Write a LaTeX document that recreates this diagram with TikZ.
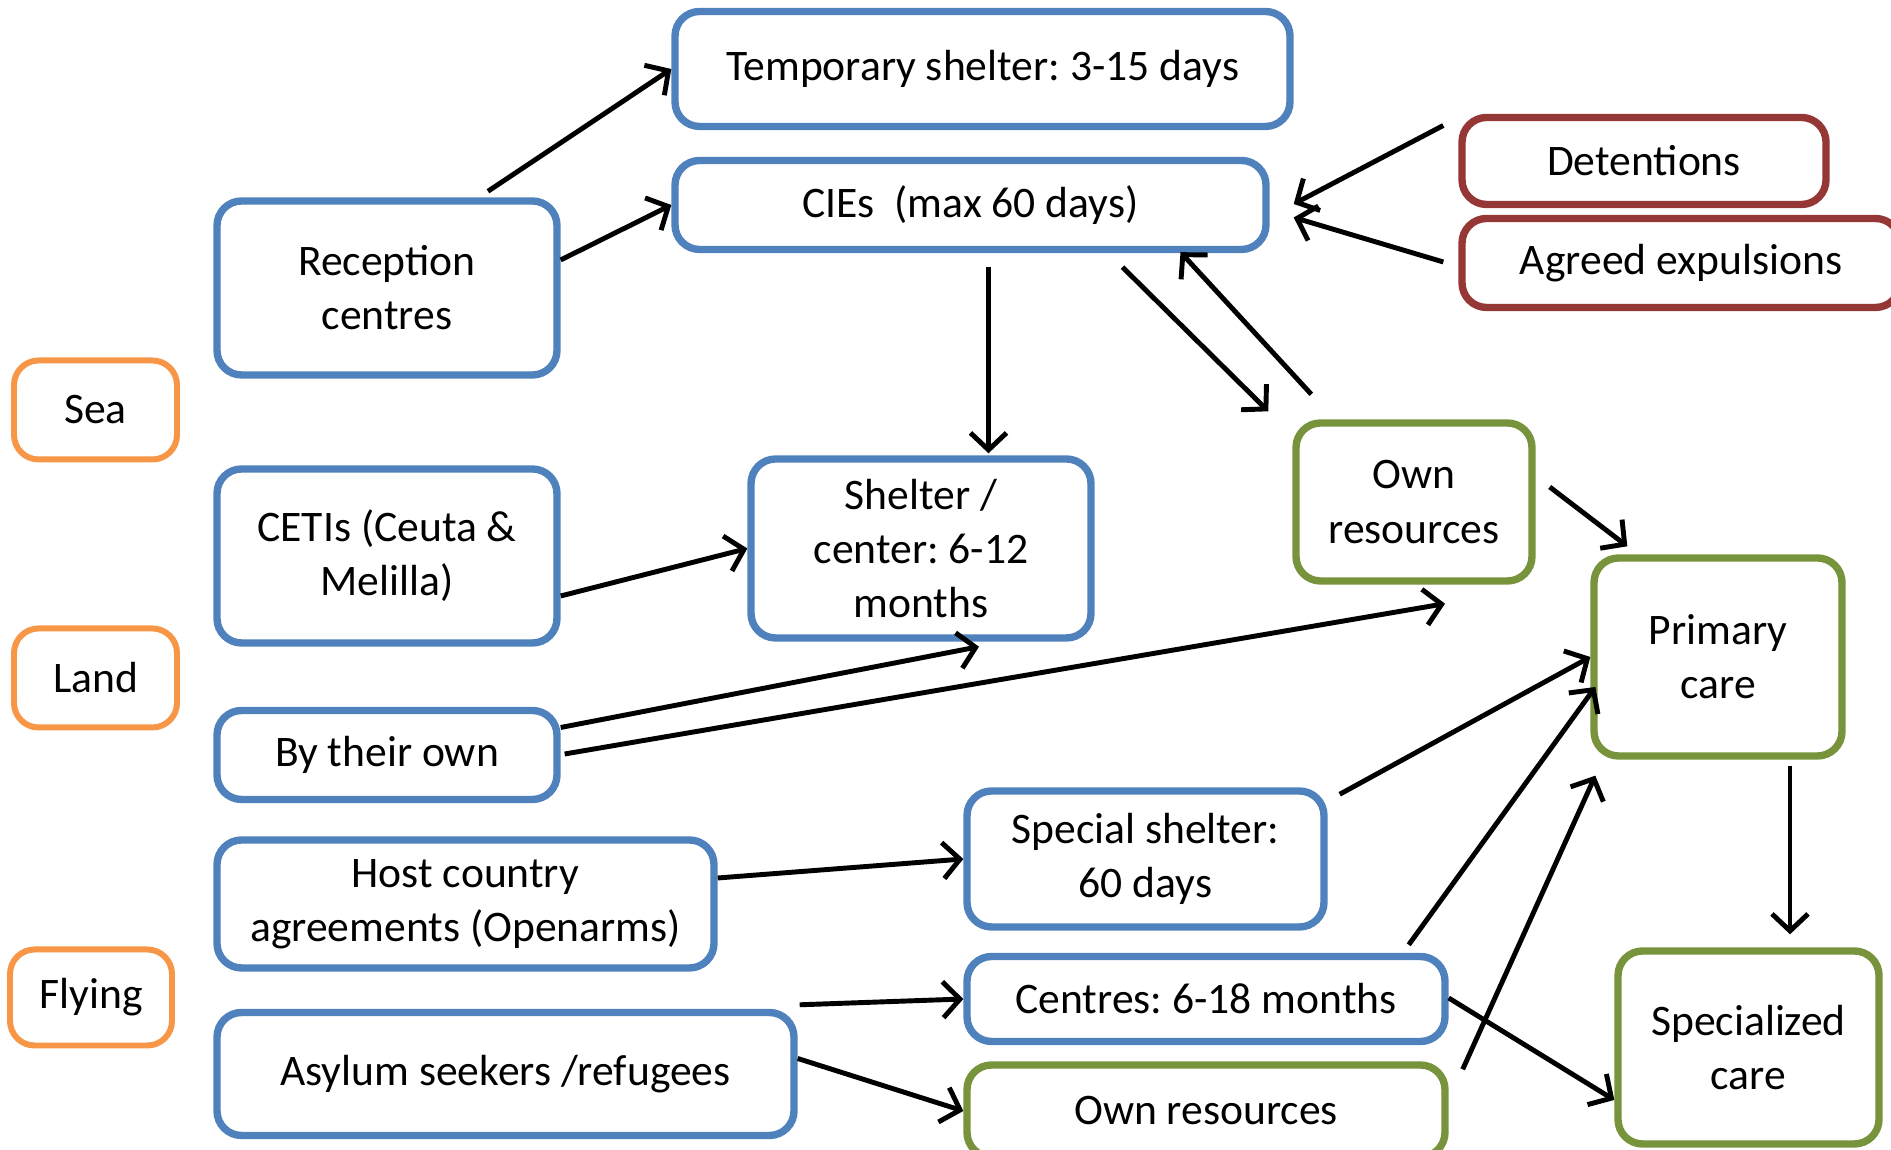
\documentclass[tikz,border=0pt]{standalone}
\usepackage{fontspec}
\setmainfont{Carlito}
\usetikzlibrary{arrows.meta}
\definecolor{boxblue}{HTML}{4F81BD}
\definecolor{boxorange}{HTML}{F79646}
\definecolor{boxred}{HTML}{953735}
\definecolor{boxgreen}{HTML}{77933C}
\frenchspacing

\begin{document}
\begin{tikzpicture}[
    box/.style={draw, fill=white, rounded corners=7pt, line width=2.1pt, align=center, inner sep=0pt,
      font=\fontsize{12.4}{15.4}\selectfont},
    bluebox/.style={box, draw=boxblue},
    orangebox/.style={box, draw=boxorange, line width=1.7pt},
    redbox/.style={box, draw=boxred},
    greenbox/.style={box, draw=boxgreen},
    arr/.style={-{Straight Barb[length=1.7mm,width=3.6mm]}, line width=1.4pt}
  ]
  \useasboundingbox (0,0) rectangle (18.91,11.5);

  % Ways of arrival
  \node[orangebox, minimum width=1.63cm, minimum height=0.99cm] (sea) at (0.955,7.40) {Sea};
  \node[orangebox, minimum width=1.63cm, minimum height=0.99cm] (land) at (0.955,4.72) {Land};
  \node[orangebox, minimum width=1.62cm, minimum height=0.96cm] (fly) at (0.91,1.525) {Flying};

  % First reception
  \node[bluebox, minimum width=3.4cm, minimum height=1.74cm] (rec) at (3.87,8.62) {Reception\\centres};
  \node[bluebox, minimum width=3.4cm, minimum height=1.74cm] (ceti) at (3.87,5.94) {CETIs (Ceuta \&\\Melilla)};
  \node[bluebox, minimum width=3.4cm, minimum height=0.89cm] (own) at (3.87,3.95) {By their own};
  \node[bluebox, minimum width=4.97cm, minimum height=1.28cm] (host) at (4.655,2.46) {Host country\\agreements (Openarms)};
  \node[bluebox, minimum width=5.77cm, minimum height=1.23cm] (asy) at (5.055,0.76) {Asylum seekers /refugees};

  % Stays
  \node[bluebox, minimum width=6.15cm, minimum height=1.15cm] (temp) at (9.825,10.81) {Temporary shelter: 3-15 days};
  \node[bluebox, minimum width=5.91cm, minimum height=0.89cm] (cie) at (9.705,9.45) {CIEs~~(max 60 days)};
  \node[bluebox, minimum width=3.4cm, minimum height=1.79cm] (shel) at (9.21,6.015) {Shelter /\\center: 6-12\\months};
  \node[bluebox, minimum width=3.57cm, minimum height=1.36cm] (spec) at (11.455,2.91) {Special shelter:\\60 days};
  \node[bluebox, minimum width=4.78cm, minimum height=0.85cm] (ctr) at (12.06,1.51) {Centres: 6-18 months};
  \node[greenbox, minimum width=4.78cm, minimum height=0.92cm] (ownb) at (12.06,0.39) {Own resources};
  \node[greenbox, minimum width=2.36cm, minimum height=1.58cm] (owna) at (14.14,6.48) {Own\\resources};

  % Other entries to CIEs
  \node[redbox, minimum width=3.64cm, minimum height=0.87cm] (det) at (16.44,9.89) {Detentions};
  \node[redbox, minimum width=4.38cm, minimum height=0.89cm] (agr) at (16.81,8.87) {Agreed expulsions};

  % Health care
  \node[greenbox, minimum width=2.48cm, minimum height=1.98cm] (prim) at (17.18,4.93) {Primary\\care};
  \node[greenbox, minimum width=2.61cm, minimum height=1.93cm] (spcare) at (17.485,1.025) {Specialized\\care};

  % Connectors
  \draw[arr] ([xshift=1.01cm,yshift=0.06cm]rec.north) -- (temp.west);
  \draw[arr] ([yshift=0.28cm]rec.east) -- (cie.west);
  \draw[arr] ([xshift=0.18cm,yshift=-0.14cm]cie.south) -- ([xshift=0.18cm,yshift=0.02cm]cie.south |- shel.north);
  \draw[arr] ([xshift=1.52cm,yshift=-0.14cm]cie.south) -- ([xshift=-0.24cm,yshift=0.08cm]owna.north west);
  \draw[arr] ([xshift=0.19cm,yshift=0.25cm]owna.north west) -- ([xshift=2.1cm,yshift=0.01cm]cie.south);
  \draw[arr] ([xshift=-0.15cm,yshift=0.355cm]det.west) -- ([xshift=0.24cm,yshift=0.01cm]cie.east);
  \draw[arr] ([xshift=-0.15cm,yshift=0.01cm]agr.west) -- ([xshift=0.24cm,yshift=-0.125cm]cie.east);
  \draw[arr] ([xshift=0.14cm,yshift=0.15cm]owna.east) -- ([xshift=0.37cm,yshift=0.08cm]prim.north west);
  \draw[arr] ([yshift=-0.40cm]ceti.east) -- (shel.west);
  \draw[arr] ([yshift=0.275cm]own.east) -- ([xshift=0.58cm,yshift=-0.05cm]shel.south);
  \draw[arr] ([xshift=0.04cm,yshift=0.01cm]own.east) -- ([xshift=0.31cm,yshift=-0.19cm]owna.south);
  \draw[arr] ([yshift=0.26cm]host.east) -- (spec.west);
  \draw[arr] ([xshift=0.12cm,yshift=-0.07cm]spec.north east) -- (prim.west);
  \draw[arr] ([xshift=-0.4cm,yshift=0.08cm]ctr.north east) -- ([xshift=0.05cm,yshift=-0.30cm]prim.west);
  \draw[arr] ([xshift=0.14cm,yshift=-0.08cm]ownb.north east) -- ([xshift=0.05cm,yshift=-0.16cm]prim.south west);
  \draw[arr] ([yshift=0.01cm]ctr.east) -- ([yshift=-0.525cm]spcare.west);
  \draw[arr] ([xshift=0.72cm,yshift=-0.06cm]prim.south) -- ([xshift=0.72cm,yshift=0.13cm]prim.south |- spcare.north);
  \draw[arr] ([xshift=0.02cm,yshift=0.04cm]asy.north east) -- (ctr.west);
  \draw[arr] ([yshift=0.155cm]asy.east) -- (ownb.west);
\end{tikzpicture}
\end{document}
